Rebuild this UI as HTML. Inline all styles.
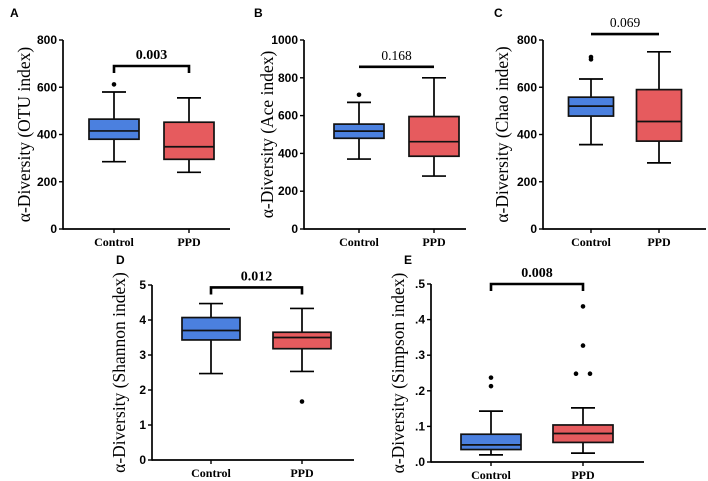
<!DOCTYPE html>
<html><head><meta charset="utf-8"><style>
html,body{margin:0;padding:0;background:#fff;}
svg{display:block;}
.tk{font-family:"Liberation Sans",sans-serif;font-weight:bold;font-size:12px;}
.xl{font-family:"Liberation Serif",serif;font-weight:bold;font-size:12px;}
.yt{font-family:"Liberation Serif",serif;font-size:17.5px;}
.pl{font-family:"Liberation Sans",sans-serif;font-weight:bold;font-size:12px;}
</style></head><body>
<svg id="fig" width="708" height="481" viewBox="0 0 708 481"></svg>
<script>
const groups = ["Control","PPD"];
// [whiskerLow, Q1, median, Q3, whiskerHigh]
const aStats = [[285,380,415,465,580],[240,295,348,452,555]];
const aOutliers = [[612],[]];
const aTicks = [0,200,400,600,800];
const bStats = [[370,480,518,555,670],[280,385,462,595,800]];
const bOutliers = [[710],[]];
const bTicks = [0,200,400,600,800,1000];
const cStats = [[357,478,520,558,635],[280,372,455,590,750]];
const cOutliers = [[718,728],[]];
const cTicks = [0,200,400,600,800];
const dStats = [[2.47,3.43,3.7,4.07,4.47],[2.53,3.18,3.5,3.65,4.33]];
const dOutliers = [[],[1.67]];
const dTicks = [0,1,2,3,4,5];
const eStats = [[0.02,0.035,0.048,0.078,0.143],[0.025,0.055,0.08,0.104,0.152]];
const eOutliers = [[0.213,0.237],[0.248,0.248,0.327,0.437]];
const eTicks = [0,0.1,0.2,0.3,0.4,0.5];
const eTickLabels = [".0",".1",".2",".3",".4",".5"];

const NS="http://www.w3.org/2000/svg";
const svg=document.getElementById('fig');
function mk(tag,attrs,parent,text){const e=document.createElementNS(NS,tag);for(const k in attrs)e.setAttribute(k,attrs[k]);if(text!==undefined)e.textContent=text;(parent||svg).appendChild(e);return e;}
const colors=["#4b80df","#e65b5e"];

function panel(p){
  const g=mk('g',{});
  
  
  const max=p.ticks[p.ticks.length-1];
  const y=v=>p.y0-(v/max)*(p.y0-p.y1);
  const x=i=>p.cx[i];
  const lt=mk('text',{x:p.lx,y:p.ly,class:'pl'},g,p.id);
  
  
  const yt=mk('text',{x:0,y:0,class:'yt','text-anchor':'middle',transform:`translate(${p.tx},${(p.y0+p.y1)/2}) rotate(-90)`},g,p.title);
  
  
  const ya=mk('line',{x1:p.ax,x2:p.ax,y1:p.y1,y2:p.y0+0.75,stroke:'#000','stroke-width':1.7},g);
  
  
  const xa=mk('line',{x1:p.ax,x2:p.axEnd,y1:p.y0,y2:p.y0,stroke:'#000','stroke-width':1.7},g);
  
  
  p.ticks.forEach((t,i)=>{
    mk('line',{x1:p.ax-4,x2:p.ax,y1:y(t),y2:y(t),stroke:'#000','stroke-width':1.4},g);
    const tl=mk('text',{x:p.ax-6,y:y(t)+4,class:'tk','text-anchor':'end'},g,p.tickLabels?p.tickLabels[i]:String(t));
    
    
  });
  groups.forEach((name,i)=>{
    const s=p.stats[i],cx=x(i),hw=p.bw/2,cw=12;
    mk('line',{x1:cx,x2:cx,y1:p.y0,y2:p.y0+4,stroke:'#000','stroke-width':1.4},g);
    const xl=mk('text',{x:cx,y:p.y0+17,class:'xl','text-anchor':'middle'},g,name);
    
    
    const bg=mk('g',{},g);
    
    
    mk('line',{x1:cx,x2:cx,y1:y(s[0]),y2:y(s[1]),stroke:'#000','stroke-width':1.7},bg);
    mk('line',{x1:cx,x2:cx,y1:y(s[3]),y2:y(s[4]),stroke:'#000','stroke-width':1.7},bg);
    mk('line',{x1:cx-cw,x2:cx+cw,y1:y(s[0]),y2:y(s[0]),stroke:'#000','stroke-width':1.7},bg);
    mk('line',{x1:cx-cw,x2:cx+cw,y1:y(s[4]),y2:y(s[4]),stroke:'#000','stroke-width':1.7},bg);
    mk('rect',{x:cx-hw,y:y(s[3]),width:p.bw,height:y(s[1])-y(s[3]),fill:colors[i],stroke:'#111','stroke-width':1.7},bg);
    mk('line',{x1:cx-hw,x2:cx+hw,y1:y(s[2]),y2:y(s[2]),stroke:'#111','stroke-width':1.7},bg);
    const outs=p.out[i];
    outs.forEach((v,k)=>{
      const dup=outs.filter(w=>w===v).length>1;
      const off=dup?(outs.indexOf(v)===k?-7:7):0;
      const o=mk('circle',{cx:cx+off,cy:y(v),r:2.3,fill:'#000'},bg);
      
      
    });
  });
  const by=y(p.br);
  const br=mk('path',{d:p.drop?`M${x(0)},${by+7}V${by}H${x(1)}V${by+7}`:`M${x(0)},${by}H${x(1)}`,fill:'none',stroke:'#000','stroke-width':2.6},g);
  
  
  const pv=mk('text',{x:(x(0)+x(1))/2,y:by-7,'text-anchor':'middle','font-family':'"Liberation Serif",serif','font-size':p.bold?14:13.5,'font-weight':p.bold?'bold':'normal'},g,p.pval);
  
  
}
panel({id:'A',lx:10,ly:17,tx:30,ax:63,axEnd:230,y0:229,y1:40,cx:[114,189],bw:50,ticks:aTicks,stats:aStats,out:aOutliers,title:'α-Diversity (OTU index)',br:690,drop:true,bold:true,pval:'0.003'});
panel({id:'B',lx:254,ly:17,tx:273,ax:304,axEnd:466,y0:229,y1:40,cx:[359,434],bw:50,ticks:bTicks,stats:bStats,out:bOutliers,title:'α-Diversity (Ace index)',br:858,drop:false,bold:false,pval:'0.168'});
panel({id:'C',lx:494,ly:17,tx:508,ax:543,axEnd:706,y0:229,y1:40,cx:[591,659],bw:45,ticks:cTicks,stats:cStats,out:cOutliers,title:'α-Diversity (Chao index)',br:825,drop:false,bold:false,pval:'0.069'});
panel({id:'D',lx:116,ly:264,tx:125,ax:152,axEnd:354,y0:460,y1:285,cx:[211,302],bw:58,ticks:dTicks,stats:dStats,out:dOutliers,title:'α-Diversity (Shannon index)',br:4.93,drop:true,bold:true,pval:'0.012'});
panel({id:'E',lx:404,ly:264,tx:404,ax:431,axEnd:644,y0:462,y1:284,cx:[491,583],bw:60,ticks:eTicks,tickLabels:eTickLabels,stats:eStats,out:eOutliers,title:'α-Diversity (Simpson index)',br:0.5,drop:true,bold:true,pval:'0.008'});
</script>
</body></html>
